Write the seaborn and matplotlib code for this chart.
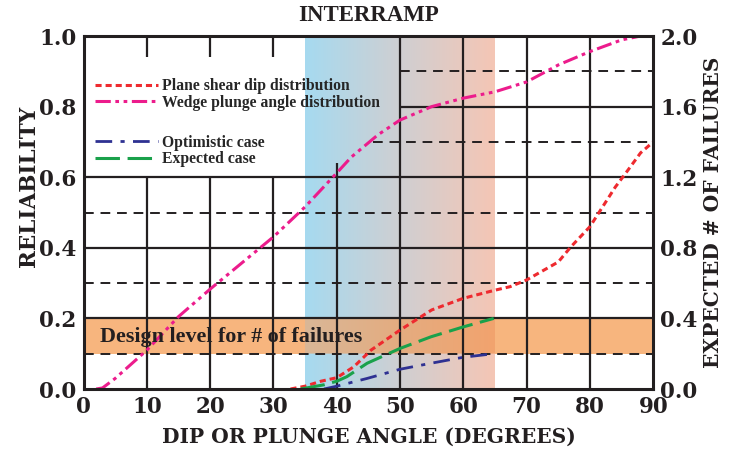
import numpy as np
import pandas as pd
import matplotlib
matplotlib.use("Agg")
import matplotlib.pyplot as plt
from matplotlib.lines import Line2D
import seaborn as sns

# ---------------- data ----------------
wedge_angle = [2, 3, 5, 10, 15, 20, 25, 30, 35, 40, 42.3, 46.5, 50, 55, 60, 65, 70, 75, 80, 85, 88, 90]
wedge_rel = [0.0, 0.003, 0.03, 0.11, 0.205, 0.283, 0.357, 0.431, 0.516, 0.612, 0.657, 0.72, 0.762,
             0.80, 0.824, 0.842, 0.87, 0.918, 0.956, 0.989, 1.0, 1.0]

plane_angle = [32.7, 35, 37.5, 40, 42.7, 45.4, 50, 55, 60, 65, 67.4, 70, 75, 77, 80, 82, 84, 86, 88, 90]
plane_rel = [0.0, 0.008, 0.022, 0.032, 0.063, 0.11, 0.167, 0.224, 0.257, 0.28, 0.29, 0.309,
             0.36, 0.403, 0.46, 0.516, 0.572, 0.62, 0.669, 0.70]

optim_angle = [38, 40, 44.8, 50, 54.9, 60, 64.8]
optim_rel = [0.0, 0.008, 0.03, 0.056, 0.073, 0.09, 0.1]

expect_angle = [34.3, 38, 40, 41.6, 44.8, 50, 54.9, 60, 64.8]
expect_rel = [0.0, 0.012, 0.022, 0.035, 0.073, 0.115, 0.148, 0.176, 0.2]

x_ticks = [0, 10, 20, 30, 40, 50, 60, 70, 80, 90]
y_ticks = [0.0, 0.2, 0.4, 0.6, 0.8, 1.0]
y2_ticks = [0.0, 0.4, 0.8, 1.2, 1.6, 2.0]

labels = ["Plane shear dip distribution", "Wedge plunge angle distribution",
          "Optimistic case", "Expected case"]
title = "INTERRAMP"
xlabel = "DIP OR PLUNGE ANGLE (DEGREES)"
ylabel = "RELIABILITY"
y2label = "EXPECTED # OF FAILURES"
band_text = "Design level for # of failures"

# ---------------- style ----------------
sns.set_style("white")
plt.rcParams["font.family"] = ["Liberation Serif", "DejaVu Serif"]
plt.rcParams["font.weight"] = "bold"
INK = "#231F20"
TICKFONT = {"family": "DejaVu Serif", "weight": "bold", "size": 15.5}
LABELFONT = {"family": "DejaVu Serif", "weight": "bold", "size": 14.5}

fig = plt.figure(figsize=(7.34, 4.49), dpi=100)
ax = fig.add_axes([0.1138, 0.1336, 0.7762, 0.7862])
ax.set_xlim(0, 90)
ax.set_ylim(0, 1)

# design band
band_col = np.array([247, 181, 126]) / 255
ax.axhspan(0.1, 0.2, color=band_col, lw=0, zorder=0.4)

# gradient 35..65 with band blend
ncol, nrow = 300, 1000
t = np.linspace(0, 1, ncol)
def interp3(c0, c1, c2, t):
    c0, c1, c2 = (np.array(c) / 255 for c in (c0, c1, c2))
    out = np.where(t[:, None] < 0.5,
                   c0 + (c1 - c0) * (t[:, None] / 0.5),
                   c1 + (c2 - c1) * ((t[:, None] - 0.5) / 0.5))
    return out
grad = interp3((166, 218, 240), (207, 207, 210), (245, 198, 181), t)
gband = interp3((217, 183, 151), (228, 172, 128), (242, 163, 110), t)
img = np.zeros((nrow, ncol, 3))
yy = (np.arange(nrow) + 0.5) / nrow
inband = (yy >= 0.1) & (yy < 0.2)
img[:, :, :] = grad[None, :, :]
img[inband, :, :] = gband[None, :, :]
ax.imshow(img, extent=[35, 65, 0, 1], origin="lower", aspect="auto", zorder=0.5,
          interpolation="bilinear")

# grid lines (solid and dashed), with the blank legend area
glw = 1.6
for xv in [10, 20, 30]:
    ax.vlines(xv, 0, 0.6, color=INK, lw=glw, zorder=1)
    ax.vlines(xv, 0.94, 1.0, color=INK, lw=glw, zorder=1)
ax.vlines(40, 0, 0.64, color=INK, lw=glw, zorder=1)
for xv in [50, 60, 70, 80]:
    ax.vlines(xv, 0, 1, color=INK, lw=glw, zorder=1)
for yv in [0.2, 0.4, 0.6]:
    ax.hlines(yv, 0, 90, color=INK, lw=glw, zorder=1)
ax.hlines(0.8, 50, 90, color=INK, lw=glw, zorder=1)
dash = (0, (5, 3.5))
for yv in [0.1, 0.3, 0.5]:
    ax.hlines(yv, 0, 90, color=INK, lw=1.4, linestyles=[dash], zorder=1)
ax.hlines(0.7, 45.7, 90, color=INK, lw=1.4, linestyles=[dash], zorder=1)
ax.hlines(0.9, 50, 90, color=INK, lw=1.4, linestyles=[dash], zorder=1)

# curves
c_red, c_mag, c_blue, c_green = "#EE2A2F", "#EC1C8C", "#2E3192", "#1AA14B"
ls_red = (0, (2.0, 1.3))
ls_mag = (0, (5, 1.5, 1.2, 1.5, 1.2, 1.5))
ls_blue = (0, (6, 3, 1.5, 3))
ls_green = (0, (8, 2.5))

series = [
    (plane_angle, plane_rel, c_red, ls_red, 2.2),
    (wedge_angle, wedge_rel, c_mag, ls_mag, 2.2),
    (optim_angle, optim_rel, c_blue, ls_blue, 2.0),
    (expect_angle, expect_rel, c_green, ls_green, 2.2),
]
for xs, ys, col, ls, lw in series:
    df = pd.DataFrame({"x": xs, "y": ys})
    sns.lineplot(data=df, x="x", y="y", ax=ax, color=col, lw=lw, linestyle=ls,
                 estimator=None, sort=False, zorder=3)

# band text
ax.text(2.6, 0.147, band_text, fontsize=15.8, fontweight="bold", color=INK,
        family="Liberation Serif", va="center", ha="left", zorder=4)

# legends
h1 = [Line2D([], [], color=c_red, lw=2.2, linestyle=ls_red),
      Line2D([], [], color=c_mag, lw=2.2, linestyle=ls_mag)]
h2 = [Line2D([], [], color=c_blue, lw=2.0, linestyle=ls_blue),
      Line2D([], [], color=c_green, lw=2.2, linestyle=ls_green)]
leg_kw = dict(frameon=False, handlelength=4.0, handletextpad=0.3, labelspacing=0.02,
              borderaxespad=0, borderpad=0,
              prop={"family": "Liberation Serif", "weight": "bold", "size": 11.3})
leg1 = ax.legend(h1, labels[:2], loc="upper left", bbox_to_anchor=(0.02, 0.88), **leg_kw)
ax.add_artist(leg1)
ax.legend(h2, labels[2:], loc="upper left", bbox_to_anchor=(0.02, 0.72), **leg_kw)

# axes cosmetics
ax.set_xticks(x_ticks)
ax.set_yticks(y_ticks)
ax.set_xticklabels([str(v) for v in x_ticks], fontdict=TICKFONT)
ax.set_yticklabels([f"{v:.1f}" for v in y_ticks], fontdict=TICKFONT)
ax.tick_params(axis="both", length=0, pad=5, colors=INK)
for s in ax.spines.values():
    s.set_linewidth(2.2)
    s.set_color(INK)
    s.set_zorder(5)
ax.set_xlabel(xlabel, fontdict=LABELFONT, color=INK, labelpad=6)
ax.set_ylabel(ylabel, fontdict={**LABELFONT, "size": 15.5}, color=INK)
ax.yaxis.set_label_coords(-0.077, 0.575)
ax.set_title(title, fontsize=16.5, fontweight="bold", family="Liberation Serif",
             color=INK, pad=11)

ax2 = ax.twinx()
ax2.set_ylim(0, 2.0)
ax2.set_yticks(y2_ticks)
ax2.set_yticklabels([f"{v:.1f}" for v in y2_ticks], fontdict=TICKFONT)
ax2.tick_params(axis="y", length=0, pad=5, colors=INK)
for s in ax2.spines.values():
    s.set_visible(False)
ax2.set_ylabel(y2label, fontdict=LABELFONT, color=INK, labelpad=4)

fig.savefig("out.png", dpi=100)
